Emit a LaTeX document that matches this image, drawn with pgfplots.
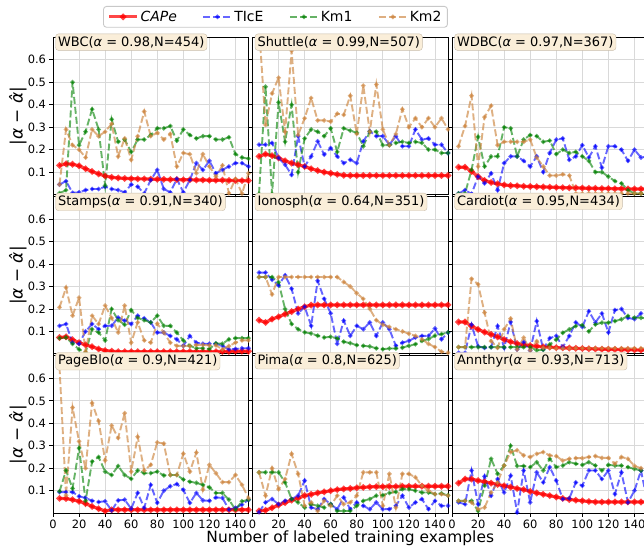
\documentclass[border=0pt]{standalone}
\usepackage{fontspec}
\setmainfont{DejaVu Sans}
\usepackage{pgfplots}
\pgfplotsset{compat=1.18}
\usepackage{pgfplotstable}
\usepgfplotslibrary{groupplots}

\definecolor{capec}{RGB}{255,0,0}
\definecolor{ticec}{RGB}{0,0,255}
\definecolor{kmonec}{RGB}{0,128,0}
\definecolor{kmtwoc}{RGB}{205,133,63}
\definecolor{wheatbg}{RGB}{250,238,217}
\definecolor{wheatedge}{RGB}{200,188,170}
\definecolor{legedge}{RGB}{200,200,200}

\pgfplotsset{
  capestyle/.style={color=capec, line width=3.2bp, opacity=0.72, mark=*, mark size=1.3bp, mark options={solid}},
  ticestyle/.style={color=ticec, line width=1.9bp, opacity=0.6, dash pattern=on 7bp off 3bp, mark=*, mark size=1.2bp, mark options={solid}},
  kmonestyle/.style={color=kmonec, line width=1.9bp, opacity=0.6, dash pattern=on 7bp off 3bp, mark=*, mark size=1.2bp, mark options={solid}},
  kmtwostyle/.style={color=kmtwoc, line width=1.9bp, opacity=0.65, dash pattern=on 7bp off 3bp, mark=*, mark size=1.2bp, mark options={solid}},
}

\pgfplotstableread{
x c t g o
5 0.130 0.045 0.006 0.045
10 0.137 0.060 0.020 0.290
15 0.135 0.008 0.500 0.220
20 0.128 0.010 0.220 0.200
25 0.115 0.020 0.280 0.165
30 0.103 0.025 0.380 0.290
35 0.092 0.025 0.290 0.260
40 0.083 0.035 0.040 0.280
45 0.077 0.025 0.335 0.315
50 0.074 0.020 0.235 0.170
55 0.072 0.010 0.245 0.250
60 0.071 0.045 0.190 0.155
65 0.070 0.035 0.245 0.260
70 0.070 0.005 0.245 0.370
75 0.069 0.065 0.265 0.260
80 0.068 0.110 0.295 0.275
85 0.068 0.025 0.295 0.245
90 0.067 0.010 0.305 0.270
95 0.067 0.070 0.240 0.125
100 0.066 0.010 0.290 0.185
105 0.066 0.065 0.265 0.180
110 0.065 0.140 0.250 0.095
115 0.065 0.110 0.260 0.180
120 0.064 0.150 0.260 0.125
125 0.064 0.095 0.245 0.080
130 0.064 0.110 0.245 0.130
135 0.063 0.125 0.255 0.006
140 0.063 0.140 0.180 0.070
145 0.062 0.140 0.165 0.005
150 0.062 0.125 0.160 0.095
}\wbc

\pgfplotstableread{
x c t g o
5 0.170 0.222 0.003 0.750
10 0.180 0.222 0.480 0.310
15 0.173 0.230 0.003 0.450
20 0.163 0.163 0.410 0.520
25 0.150 0.133 0.235 0.280
30 0.140 0.088 0.400 0.640
35 0.133 0.260 0.100 0.265
40 0.125 0.125 0.250 0.340
45 0.115 0.170 0.290 0.430
50 0.107 0.237 0.280 0.330
55 0.100 0.178 0.260 0.330
60 0.095 0.207 0.295 0.325
65 0.090 0.170 0.190 0.360
70 0.086 0.140 0.295 0.355
75 0.085 0.155 0.285 0.440
80 0.085 0.140 0.275 0.270
85 0.085 0.237 0.215 0.485
90 0.085 0.282 0.280 0.280
95 0.085 0.260 0.280 0.490
100 0.085 0.260 0.220 0.290
105 0.085 0.222 0.220 0.220
110 0.085 0.260 0.230 0.270
115 0.085 0.215 0.235 0.380
120 0.085 0.215 0.230 0.300
125 0.085 0.290 0.235 0.340
130 0.085 0.245 0.230 0.300
135 0.085 0.250 0.200 0.340
140 0.085 0.222 0.200 0.300
145 0.085 0.222 0.185 0.340
150 0.085 0.185 0.185 0.290
}\shuttle

\pgfplotstableread{
x c t g o
5 0.122 0.005 0.005 0.215
10 0.122 0.020 0.005 0.305
15 0.103 0.003 0.110 0.440
20 0.080 0.080 0.257 0.125
25 0.063 0.050 0.125 0.345
30 0.054 0.095 0.170 0.395
35 0.048 0.020 0.170 0.220
40 0.043 0.140 0.300 0.235
45 0.040 0.170 0.295 0.235
50 0.039 0.170 0.170 0.235
55 0.037 0.150 0.245 0.235
60 0.036 0.125 0.265 0.245
65 0.035 0.170 0.260 0.165
70 0.034 0.100 0.235 0.125
75 0.033 0.185 0.240 0.085
80 0.032 0.245 0.180 0.085
85 0.031 0.250 0.200 0.090
90 0.030 0.155 0.185 0.085
95 0.030 0.170 0.190 0.005
100 0.029 0.220 0.170 0.005
105 0.028 0.165 0.150 0.005
110 0.028 0.215 0.100 0.005
115 0.027 0.120 0.100 0.005
120 0.027 0.215 0.080 0.005
125 0.026 0.215 0.060 0.005
130 0.026 0.200 0.050 0.005
135 0.025 0.150 0.020 0.005
140 0.025 0.200 0.005 0.005
145 0.025 0.165 0.005 0.005
150 0.025 0.170 0.005 0.005
}\wdbc

\pgfplotstableread{
x c t g o
5 0.073 0.125 0.070 0.207
10 0.076 0.133 0.073 0.295
15 0.063 0.050 0.045 0.170
20 0.050 0.045 0.020 0.250
25 0.040 0.100 0.005 0.010
30 0.032 0.133 0.110 0.170
35 0.022 0.110 0.095 0.133
40 0.015 0.125 0.060 0.215
45 0.012 0.125 0.200 0.160
50 0.010 0.162 0.150 0.095
55 0.010 0.148 0.130 0.215
60 0.010 0.133 0.195 0.050
65 0.010 0.170 0.160 0.140
70 0.010 0.158 0.150 0.060
75 0.010 0.140 0.140 0.050
80 0.010 0.095 0.170 0.135
85 0.010 0.095 0.125 0.095
90 0.010 0.080 0.125 0.050
95 0.010 0.065 0.095 0.036
100 0.010 0.036 0.060 0.035
105 0.010 0.080 0.036 0.035
110 0.010 0.050 0.025 0.040
115 0.010 0.045 0.025 0.040
120 0.010 0.045 0.022 0.038
125 0.010 0.045 0.047 0.038
130 0.011 0.036 0.045 0.020
135 0.011 0.020 0.065 0.035
140 0.012 0.022 0.070 0.050
145 0.012 0.025 0.070 0.060
150 0.012 0.025 0.070 0.060
}\stamps

\pgfplotstableread{
x c t g o
5 0.150 0.362 0.342 0.342
10 0.140 0.362 0.342 0.342
15 0.155 0.330 0.342 0.265
20 0.165 0.305 0.319 0.342
25 0.177 0.350 0.200 0.342
30 0.188 0.290 0.133 0.342
35 0.200 0.180 0.110 0.342
40 0.210 0.210 0.096 0.342
45 0.217 0.125 0.091 0.342
50 0.218 0.325 0.081 0.342
55 0.218 0.245 0.073 0.342
60 0.218 0.180 0.076 0.342
65 0.218 0.045 0.069 0.342
70 0.218 0.148 0.054 0.320
75 0.218 0.080 0.048 0.300
80 0.218 0.125 0.039 0.270
85 0.218 0.110 0.036 0.245
90 0.218 0.140 0.033 0.200
95 0.218 0.080 0.025 0.150
100 0.218 0.140 0.021 0.130
105 0.218 0.110 0.024 0.120
110 0.218 0.036 0.024 0.110
115 0.218 0.050 0.028 0.100
120 0.218 0.058 0.036 0.090
125 0.218 0.073 0.043 0.080
130 0.218 0.080 0.058 0.065
135 0.218 0.080 0.066 0.045
140 0.218 0.113 0.081 0.030
145 0.218 0.065 0.088 0.010
150 0.218 0.095 0.096 0.005
}\ionosph

\pgfplotstableread{
x c t g o
5 0.142 0.005 0.030 0.030
10 0.142 0.005 0.030 0.030
15 0.124 0.130 0.030 0.334
20 0.109 0.034 0.030 0.310
25 0.097 0.027 0.030 0.184
30 0.087 0.030 0.030 0.057
35 0.076 0.124 0.030 0.027
40 0.064 0.027 0.030 0.109
45 0.054 0.142 0.030 0.157
50 0.046 0.020 0.030 0.020
55 0.040 0.052 0.030 0.072
60 0.037 0.015 0.030 0.015
65 0.034 0.146 0.016 0.057
70 0.031 0.020 0.018 0.027
75 0.030 0.070 0.042 0.027
80 0.028 0.080 0.064 0.025
85 0.027 0.030 0.094 0.025
90 0.026 0.080 0.109 0.025
95 0.025 0.140 0.124 0.025
100 0.024 0.120 0.128 0.025
105 0.023 0.190 0.100 0.025
110 0.022 0.140 0.131 0.025
115 0.021 0.180 0.139 0.025
120 0.020 0.095 0.139 0.025
125 0.020 0.195 0.146 0.025
130 0.019 0.200 0.154 0.025
135 0.018 0.160 0.169 0.025
140 0.018 0.155 0.161 0.025
145 0.017 0.180 0.161 0.025
150 0.017 0.170 0.157 0.025
}\cardiot

\pgfplotstableread{
x c t g o
5 0.066 0.094 0.097 0.650
10 0.065 0.094 0.190 0.080
15 0.060 0.094 0.110 0.470
20 0.053 0.075 0.290 0.320
25 0.043 0.068 0.055 0.200
30 0.030 0.055 0.230 0.490
35 0.020 0.050 0.250 0.410
40 0.010 0.053 0.185 0.235
45 0.015 0.012 0.170 0.390
50 0.015 0.057 0.210 0.335
55 0.015 0.060 0.170 0.445
60 0.015 0.020 0.153 0.185
65 0.015 0.090 0.190 0.340
70 0.015 0.024 0.178 0.190
75 0.015 0.126 0.178 0.215
80 0.015 0.046 0.185 0.315
85 0.015 0.100 0.168 0.310
90 0.015 0.120 0.170 0.170
95 0.015 0.130 0.170 0.170
100 0.015 0.104 0.150 0.265
105 0.015 0.046 0.140 0.185
110 0.015 0.090 0.135 0.270
115 0.015 0.057 0.126 0.105
120 0.015 0.055 0.115 0.215
125 0.015 0.070 0.090 0.178
130 0.015 0.068 0.090 0.138
135 0.015 0.016 0.060 0.138
140 0.015 0.024 0.016 0.170
145 0.015 0.038 0.053 0.126
150 0.015 0.060 0.060 0.067
}\pageblo

\pgfplotstableread{
x c t g o
5 0.010 0.005 0.182 0.182
10 0.013 0.048 0.182 0.078
15 0.024 0.063 0.182 0.200
20 0.036 0.040 0.182 0.107
25 0.047 0.055 0.137 0.152
30 0.058 0.063 0.063 0.264
35 0.067 0.078 0.048 0.175
40 0.078 0.145 0.025 0.033
45 0.084 0.025 0.040 0.048
50 0.090 0.018 0.033 0.010
55 0.095 0.063 0.025 0.055
60 0.100 0.040 0.040 0.033
65 0.105 0.018 0.010 0.078
70 0.108 0.070 0.010 0.040
75 0.110 0.018 0.010 0.048
80 0.113 0.048 0.033 0.078
85 0.115 0.033 0.055 0.182
90 0.117 0.018 0.063 0.182
95 0.118 0.048 0.078 0.182
100 0.118 0.018 0.080 0.033
105 0.119 0.018 0.090 0.175
110 0.119 0.033 0.095 0.025
115 0.120 0.078 0.107 0.175
120 0.120 0.025 0.107 0.175
125 0.120 0.048 0.100 0.160
130 0.120 0.063 0.092 0.122
135 0.120 0.018 0.092 0.100
140 0.120 0.055 0.085 0.085
145 0.120 0.033 0.088 0.085
150 0.120 0.033 0.080 0.078
}\pima

\pgfplotstableread{
x c t g o
5 0.134 0.048 0.055 0.055
10 0.152 0.040 0.055 0.055
15 0.152 0.190 0.055 0.048
20 0.145 0.040 0.010 0.018
25 0.140 0.164 0.122 0.025
30 0.134 0.078 0.242 0.092
35 0.128 0.152 0.175 0.137
40 0.122 0.092 0.212 0.212
45 0.116 0.167 0.300 0.272
50 0.110 0.003 0.210 0.280
55 0.105 0.190 0.210 0.257
60 0.097 0.048 0.205 0.250
65 0.090 0.182 0.227 0.264
70 0.084 0.137 0.190 0.272
75 0.078 0.205 0.242 0.257
80 0.072 0.145 0.205 0.254
85 0.066 0.063 0.212 0.234
90 0.061 0.066 0.227 0.242
95 0.058 0.137 0.220 0.245
100 0.055 0.122 0.215 0.245
105 0.052 0.190 0.227 0.250
110 0.050 0.190 0.212 0.254
115 0.050 0.152 0.190 0.246
120 0.050 0.190 0.215 0.246
125 0.050 0.085 0.212 0.220
130 0.050 0.182 0.212 0.250
135 0.050 0.048 0.205 0.242
140 0.050 0.100 0.197 0.210
145 0.050 0.190 0.190 0.200
150 0.050 0.048 0.182 0.190
}\annthyr

\newcommand{\panelplots}[1]{%
  \addplot[capestyle] table[x=x,y=c]{#1};
  \addplot[ticestyle] table[x=x,y=t]{#1};
  \addplot[kmonestyle] table[x=x,y=g]{#1};
  \addplot[kmtwostyle] table[x=x,y=o]{#1};
}

\begin{document}
\begin{tikzpicture}
\begin{groupplot}[
  group style={group size=3 by 3, horizontal sep=4bp, vertical sep=2bp,
    xticklabels at=edge bottom, yticklabels at=edge left},
  scale only axis, width=195.5bp, height=157.3bp,
  xmin=0, xmax=150, ymin=0, ymax=0.7,
  xtick={0,20,...,140}, ytick={0.1,0.2,0.3,0.4,0.5,0.6},
  /pgf/number format/assume math mode=true,
  yticklabel style={/pgf/number format/fixed, /pgf/number format/precision=1},
  tick label style={font=\fontsize{11.5}{13}\selectfont},
  tick align=outside, tick pos=left, major tick length=3.5bp,
  tick style={black, line width=0.8bp},
  axis line style={black, line width=0.9bp},
  grid=major, grid style={black!15, line width=0.8bp},
  title style={at={(0.012,0.985)}, anchor=north west, fill=wheatbg, draw=wheatedge,
    rounded corners=3bp, inner sep=2.5bp, font=\fontsize{13}{15}\selectfont},
  every axis y label/.style={at={(axis description cs:-0.18,0.5)}, anchor=center, rotate=90, font=\fontsize{17}{19}\selectfont},
]
\nextgroupplot[title={WBC(\textit{α} = 0.98,N=454)}, ylabel={|\textit{α} − \textit{α̂}|}]
\coordinate (tl) at (rel axis cs:0,1);
\panelplots{\wbc}
\nextgroupplot[title={Shuttle(\textit{α} = 0.99,N=507)}]
\panelplots{\shuttle}
\nextgroupplot[title={WDBC(\textit{α} = 0.97,N=367)}]
\panelplots{\wdbc}
\nextgroupplot[title={Stamps(\textit{α} = 0.91,N=340)}, ylabel={|\textit{α} − \textit{α̂}|}]
\panelplots{\stamps}
\nextgroupplot[title={Ionosph(\textit{α} = 0.64,N=351)}]
\panelplots{\ionosph}
\nextgroupplot[title={Cardiot(\textit{α} = 0.95,N=434)}]
\panelplots{\cardiot}
\nextgroupplot[title={PageBlo(\textit{α} = 0.9,N=421)}, ylabel={|\textit{α} − \textit{α̂}|}]
\panelplots{\pageblo}
\nextgroupplot[title={Pima(\textit{α} = 0.8,N=625)},
  xlabel={Number of labeled training examples},
  xlabel style={at={(axis description cs:0.5,-0.16)}, anchor=center, font=\fontsize{15.5}{17}\selectfont}]
\panelplots{\pima}
\nextgroupplot[title={Annthyr(\textit{α} = 0.93,N=713)}]
\panelplots{\annthyr}
\end{groupplot}
% legend: an empty helper axis that carries only the legend
\begin{axis}[at={(tl)}, anchor=north west, scale only axis, width=195.5bp, height=157.3bp,
  hide axis, xmin=0, xmax=1, ymin=0, ymax=1,
  legend columns=4,
  legend style={at={(0.256,1.199)}, anchor=north west, draw=legedge, line width=0.9bp,
    fill=white, rounded corners=3bp, font=\fontsize{14}{16}\selectfont,
    inner xsep=4bp, inner ysep=2.5bp, column sep=0bp},
  legend cell align=left,
  legend image code/.code={\draw[#1, mark repeat=2, mark phase=2] plot coordinates {(0bp,0bp) (14bp,0bp) (28bp,0bp)};},
]
\addlegendimage{capestyle}
\addlegendentry{\textit{CAPe}\rule{23.5bp}{0pt}}
\addlegendimage{ticestyle}
\addlegendentry{TIcE\rule{23.5bp}{0pt}}
\addlegendimage{kmonestyle}
\addlegendentry{Km1\rule{23.5bp}{0pt}}
\addlegendimage{kmtwostyle}
\addlegendentry{Km2}
\end{axis}
\pgfresetboundingbox
\useasboundingbox ([shift={(-53bp,37.3bp)}]tl) rectangle ++(644bp,-550bp);
\end{tikzpicture}
\end{document}
